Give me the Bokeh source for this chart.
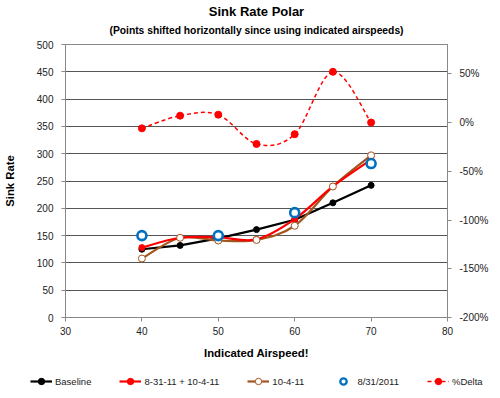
import numpy as np
from bokeh.plotting import figure
from bokeh.models import (LinearAxis, Range1d, NumeralTickFormatter, Legend, LegendItem,
                          Title, ColumnDataSource, SingleIntervalTicker, FixedTicker, Spacer)
from bokeh.embed import file_html
from bokeh.resources import INLINE

airspeed = [40, 45, 50, 55, 60, 65, 70]
baseline = [125, 132, 145, 161, 179, 210, 242]
combined = [128, 146, 147, 143, 180, 240, 289]
oct_4 = [108, 146, 141, 142, 168, 240, 297]
aug31_x = [40, 50, 60, 70]
aug31 = [150, 150, 192, 282]
pct_delta = [-0.06, 0.07, 0.08, -0.22, -0.12, 0.52, 0.0]

FONT = "Liberation Sans"
RED = "#FF0000"
BROWN = "#A0561E"
BLUE = "#0070C0"

p = figure(frame_width=382, frame_height=273, output_backend="svg", toolbar_location=None,
           x_range=Range1d(30, 80), y_range=Range1d(0, 500),
           min_border_left=0, min_border_right=0, min_border_top=0, min_border_bottom=0)
p.extra_y_ranges = {"pct": Range1d(-2.0, 0.8)}

p.title = Title(text="Sink Rate Polar", text_font=FONT, text_font_size="13px",
                text_font_style="bold", align="center", text_color="black", standoff=-8)
p.add_layout(Title(text="(Points shifted horizontally since using indicated airspeeds)",
                   text_font=FONT, text_font_size="10.3px", text_font_style="bold",
                   align="center", text_color="black", standoff=17), "above")

p.background_fill_color = "white"
p.border_fill_color = "white"
p.outline_line_color = "#888888"
p.xgrid.visible = False
p.ygrid.grid_line_color = "#555555"
p.ygrid.grid_line_width = 1

p.xaxis.ticker = SingleIntervalTicker(interval=10)
p.yaxis.ticker = SingleIntervalTicker(interval=50)
for ax in (p.xaxis[0], p.yaxis[0]):
    ax.axis_line_color = "#888888"
    ax.major_tick_line_color = "#888888"
    ax.major_tick_out = 4
    ax.major_tick_in = 0
    ax.minor_tick_line_color = None
    ax.major_label_text_font = FONT
    ax.major_label_text_font_size = "10px"
    ax.major_label_text_color = "#222222"
    ax.axis_label_text_font = FONT
    ax.axis_label_text_font_size = "11.3px"
    ax.axis_label_text_font_style = "bold"
    ax.axis_label_text_color = "black"
p.xaxis.axis_label = "Indicated Airspeed!"
p.yaxis.axis_label = "Sink Rate"
p.xaxis.major_label_standoff = 5
p.xaxis.axis_label_standoff = 9
p.yaxis.major_label_standoff = 8
p.yaxis.axis_label_standoff = 18

rax = LinearAxis(y_range_name="pct", ticker=FixedTicker(ticks=[-2, -1.5, -1, -0.5, 0, 0.5]),
                 formatter=NumeralTickFormatter(format="0%"))
rax.axis_line_color = "#888888"
rax.major_tick_line_color = "#888888"
rax.major_tick_out = 4
rax.major_tick_in = 0
rax.minor_tick_line_color = None
rax.major_label_text_font = FONT
rax.major_label_text_font_size = "10px"
rax.major_label_text_color = "#222222"
rax.major_label_standoff = 8
p.add_layout(rax, "right")


def smooth(xs, ys):
    xs = np.asarray(xs, float)
    ys = np.asarray(ys, float)
    n = len(xs)
    d = dict(x0=[], y0=[], x1=[], y1=[], cx0=[], cy0=[], cx1=[], cy1=[])
    for i in range(n - 1):
        i0 = max(i - 1, 0)
        i3 = min(i + 2, n - 1)
        d["x0"].append(xs[i]); d["y0"].append(ys[i])
        d["x1"].append(xs[i + 1]); d["y1"].append(ys[i + 1])
        d["cx0"].append(xs[i] + (xs[i + 1] - xs[i0]) / 6)
        d["cy0"].append(ys[i] + (ys[i + 1] - ys[i0]) / 6)
        d["cx1"].append(xs[i + 1] - (xs[i3] - xs[i]) / 6)
        d["cy1"].append(ys[i + 1] - (ys[i3] - ys[i]) / 6)
    return ColumnDataSource(d)

BZ = dict(x0="x0", y0="y0", x1="x1", y1="y1", cx0="cx0", cy0="cy0", cx1="cx1", cy1="cy1")

STY = {
    "base_l": dict(line_color="black", line_width=2.2),
    "base_m": dict(marker="circle", size=6, fill_color="black", line_color="black"),
    "comb_l": dict(line_color=RED, line_width=2.2),
    "comb_m": dict(marker="circle", size=6, fill_color=RED, line_color=RED),
    "oct_l": dict(line_color=BROWN, line_width=2.2),
    "oct_m": dict(marker="circle", size=7, fill_color="white", line_color=BROWN, line_width=1),
    "aug_m": dict(marker="circle", size=9, fill_color="white", line_color=BLUE, line_width=2.6),
    "del_l": dict(line_color=RED, line_width=1.5, line_dash="4 3"),
    "del_m": dict(marker="circle", size=7, fill_color=RED, line_color=RED),
}

p.line(airspeed, baseline, **STY["base_l"])
p.scatter(airspeed, baseline, **STY["base_m"])
p.bezier(source=smooth(airspeed, oct_4), **STY["oct_l"], **BZ)
p.bezier(source=smooth(airspeed, combined), **STY["comb_l"], **BZ)
p.scatter(airspeed, combined, **STY["comb_m"])
p.scatter(airspeed, oct_4, **STY["oct_m"])
p.scatter(aug31_x, aug31, **STY["aug_m"])
p.bezier(source=smooth(airspeed, pct_delta), y_range_name="pct", **STY["del_l"], **BZ)
p.scatter(airspeed, pct_delta, y_range_name="pct", **STY["del_m"])

# legend strip below the chart; its sample renderers sit outside the strip's visible ranges
lf = figure(width=500, height=32, output_backend="svg", toolbar_location=None,
            x_axis_type=None, y_axis_type=None,
            x_range=Range1d(0, 1), y_range=Range1d(0, 1),
            min_border_left=0, min_border_right=0, min_border_top=0, min_border_bottom=0)
lf.grid.visible = False
lf.outline_line_color = None
lf.background_fill_color = "white"
lf.border_fill_color = "white"

l_b = lf.line(airspeed, baseline, **STY["base_l"])
m_b = lf.scatter(airspeed, baseline, **STY["base_m"])
l_c = lf.line(airspeed, combined, **STY["comb_l"])
m_c = lf.scatter(airspeed, combined, **STY["comb_m"])
l_o = lf.line(airspeed, oct_4, **STY["oct_l"])
m_o = lf.scatter(airspeed, oct_4, **STY["oct_m"])
m_a = lf.scatter(aug31_x, aug31, **dict(STY["aug_m"], size=8, line_width=2.3))
l_d = lf.line(airspeed, pct_delta, **STY["del_l"])
m_d = lf.scatter(airspeed, pct_delta, **STY["del_m"])

legend = Legend(items=[
    LegendItem(label="Baseline", renderers=[l_b, m_b]),
    LegendItem(label="8-31-11 + 10-4-11", renderers=[l_c, m_c]),
    LegendItem(label="10-4-11", renderers=[l_o, m_o]),
    LegendItem(label="8/31/2011", renderers=[m_a]),
    LegendItem(label="%Delta", renderers=[l_d, m_d]),
], orientation="horizontal", location=(30, 4), padding=0, margin=0, spacing=28,
    glyph_width=22, glyph_height=16, label_standoff=3,
    label_text_font=FONT, label_text_font_size="9.5px", label_text_color="#222222",
    border_line_color=None, background_fill_alpha=0)
lf.add_layout(legend, "center")

top_gap = Spacer(width=500, height=5)
open("out.html", "w").write(file_html([top_gap, p, lf], INLINE))
